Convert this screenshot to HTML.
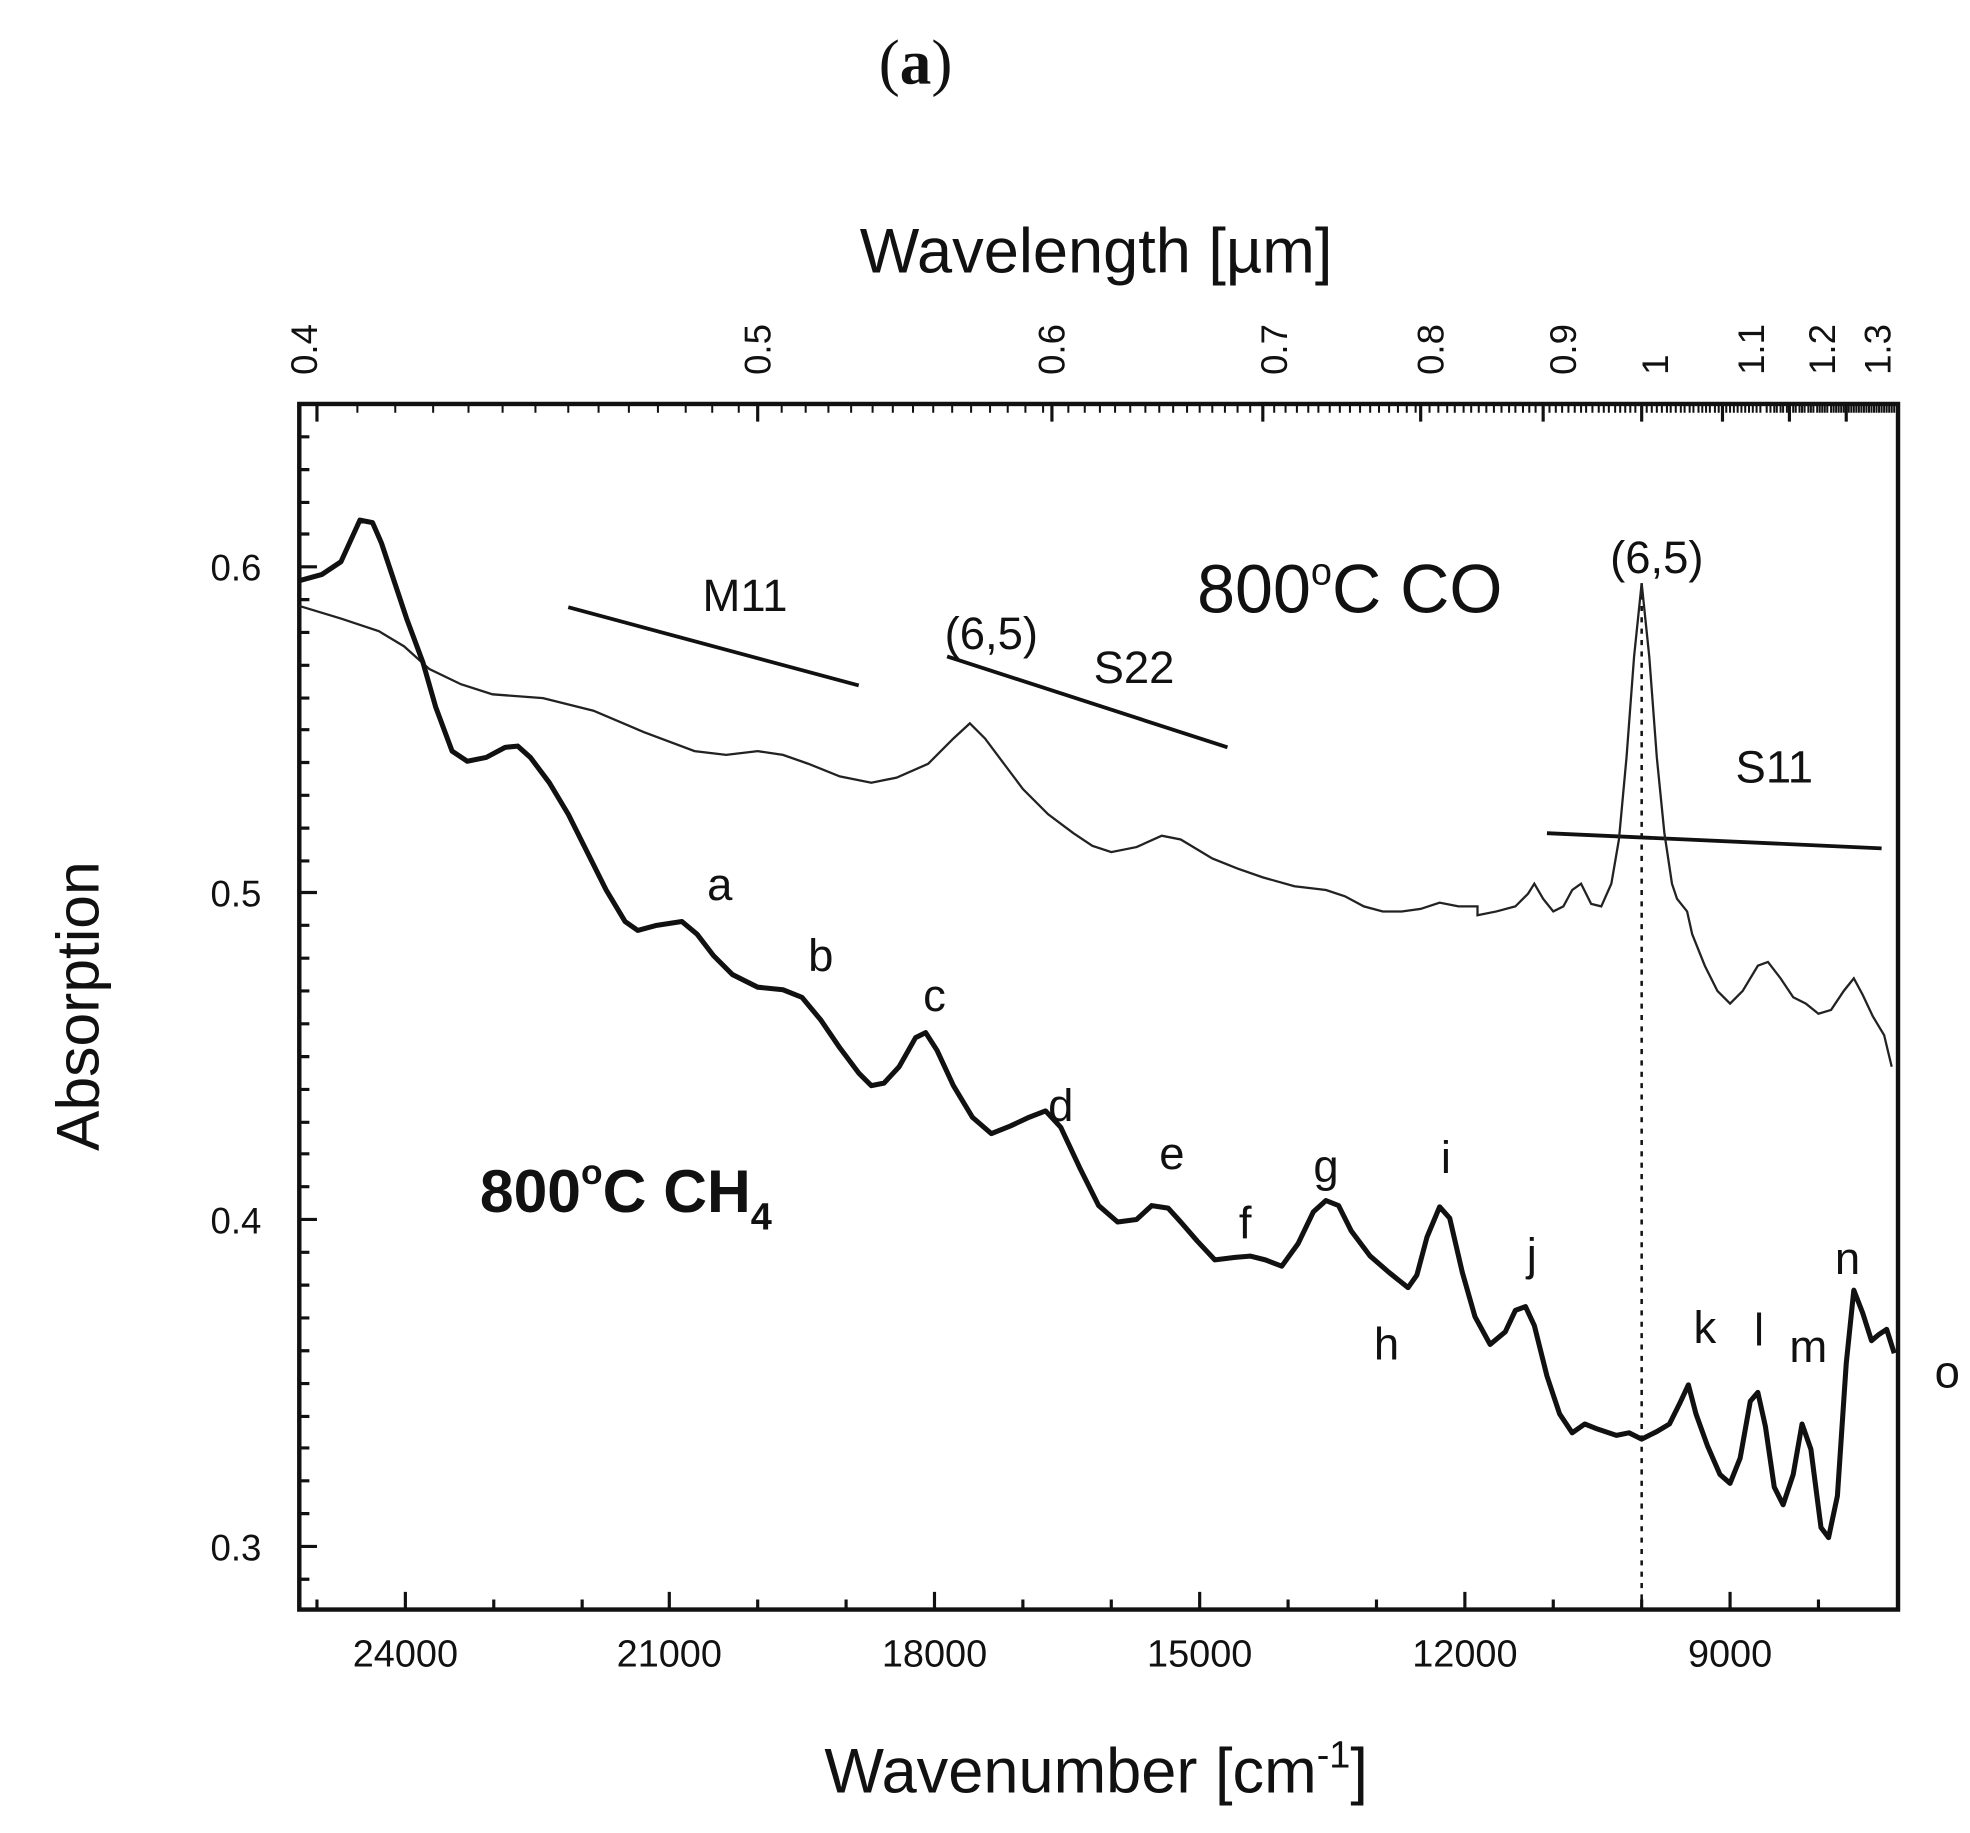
<!DOCTYPE html>
<html><head><meta charset="utf-8"><style>
html,body{margin:0;padding:0;background:#fff;}
svg{display:block}
text{font-family:"Liberation Sans",Arial,sans-serif;fill:#111}
</style></head><body>
<svg width="1970" height="1833" viewBox="0 0 1560 1452" preserveAspectRatio="none" xmlns="http://www.w3.org/2000/svg">
<text x="725" y="66" font-size="50" text-anchor="middle" style="font-family:'Liberation Serif',serif">(<tspan font-weight="bold">a</tspan>)</text>
<text x="868" y="216" font-size="50" text-anchor="middle">Wavelength [µm]</text>
<text x="868" y="1420" font-size="50" text-anchor="middle">Wavenumber [cm<tspan dy="-20" font-size="30">-1</tspan><tspan dy="20">]</tspan></text>
<text transform="translate(78,797) rotate(-90)" font-size="48" text-anchor="middle">Absorption</text>
<g font-size="30" text-anchor="middle">
<text x="321" y="1320">24000</text><text x="530" y="1320">21000</text><text x="740" y="1320">18000</text><text x="950" y="1320">15000</text><text x="1160" y="1320">12000</text><text x="1370" y="1320">9000</text>
</g>
<g font-size="29" text-anchor="end">
<text x="207" y="460">0.6</text><text x="207" y="718">0.5</text><text x="207" y="977">0.4</text><text x="207" y="1236">0.3</text>
</g>
<g font-size="29">
<text transform="translate(251,297) rotate(-90)">0.4</text>
<text transform="translate(610,297) rotate(-90)">0.5</text>
<text transform="translate(843,297) rotate(-90)">0.6</text>
<text transform="translate(1019,297) rotate(-90)">0.7</text>
<text transform="translate(1143,297) rotate(-90)">0.8</text>
<text transform="translate(1248,297) rotate(-90)">0.9</text>
<text transform="translate(1321,297) rotate(-90)">1</text>
<text transform="translate(1397,297) rotate(-90)">1.1</text>
<text transform="translate(1453,297) rotate(-90)">1.2</text>
<text transform="translate(1497,297) rotate(-90)">1.3</text>
</g>
<g stroke="#111" stroke-width="2.5" fill="none">
<path d="M321,1275v-14M530,1275v-14M740,1275v-14M950,1275v-14M1160,1275v-14M1370,1275v-14M391,1275v-8M461,1275v-8M600,1275v-8M670,1275v-8M810,1275v-8M880,1275v-8M1020,1275v-8M1090,1275v-8M1230,1275v-8M1300,1275v-8M1440,1275v-8M251,1275v-8"/>
<path d="M237,449h14M237,707h14M237,966h14M237,1225h14"/>
<path d="M237,346h8M237,372h8M237,398h8M237,423h8M237,475h8M237,501h8M237,527h8M237,553h8M237,578h8M237,604h8M237,630h8M237,656h8M237,682h8M237,733h8M237,759h8M237,785h8M237,811h8M237,837h8M237,863h8M237,889h8M237,914h8M237,940h8M237,992h8M237,1018h8M237,1044h8M237,1070h8M237,1096h8M237,1122h8M237,1147h8M237,1173h8M237,1199h8M237,1251h8"/>
<path d="M251,320v14M600,320v14M833,320v14M1000,320v14M1125,320v14M1222,320v14M1300,320v14M1364,320v14M1417,320v14M1462,320v14"/>
</g>
<path stroke="#111" stroke-width="1.6" d="M283,320v7M313,320v7M343,320v7M371,320v7M398,320v7M424,320v7M450,320v7M474,320v7M498,320v7M521,320v7M543,320v7M564,320v7M585,320v7M619,320v7M638,320v7M656,320v7M674,320v7M691,320v7M707,320v7M723,320v7M739,320v7M754,320v7M769,320v7M784,320v7M798,320v7M812,320v7M826,320v7M846,320v7M859,320v7M871,320v7M883,320v7M895,320v7M907,320v7M918,320v7M929,320v7M940,320v7M950,320v7M960,320v7M970,320v7M980,320v7M990,320v7M1009,320v7M1018,320v7M1027,320v7M1036,320v7M1044,320v7M1053,320v7M1061,320v7M1069,320v7M1077,320v7M1085,320v7M1092,320v7M1100,320v7M1107,320v7M1114,320v7M1121,320v7M1132,320v7M1139,320v7M1146,320v7M1152,320v7M1159,320v7M1165,320v7M1171,320v7M1177,320v7M1183,320v7M1189,320v7M1195,320v7M1200,320v7M1206,320v7M1211,320v7M1216,320v7M1227,320v7M1232,320v7M1237,320v7M1242,320v7M1247,320v7M1252,320v7M1256,320v7M1261,320v7M1266,320v7M1270,320v7M1274,320v7M1279,320v7M1283,320v7M1287,320v7M1291,320v7M1295,320v7M1304,320v7M1308,320v7M1312,320v7M1316,320v7M1320,320v7M1323,320v7M1327,320v7M1331,320v7M1334,320v7M1338,320v7M1341,320v7M1345,320v7M1348,320v7M1351,320v7M1354,320v7M1358,320v7M1361,320v7M1367,320v7M1370,320v7M1373,320v7M1376,320v7M1379,320v7M1382,320v7M1385,320v7M1388,320v7M1391,320v7M1394,320v7M1399,320v7M1402,320v7M1405,320v7M1407,320v7M1410,320v7M1412,320v7M1415,320v7M1420,320v7M1422,320v7M1425,320v7M1427,320v7M1429,320v7M1432,320v7M1434,320v7M1436,320v7M1439,320v7M1441,320v7M1443,320v7M1445,320v7M1447,320v7M1450,320v7M1452,320v7M1454,320v7M1456,320v7M1458,320v7M1460,320v7M1464,320v7M1466,320v7M1468,320v7M1470,320v7M1472,320v7M1474,320v7M1476,320v7M1478,320v7M1480,320v7M1482,320v7M1484,320v7M1486,320v7M1488,320v7M1490,320v7M1492,320v7M1494,320v7M1496,320v7M1498,320v7M1500,320v7"/>
<rect x="237" y="320" width="1266" height="955" fill="none" stroke="#111" stroke-width="3.5"/>
<line x1="1300" y1="462" x2="1300" y2="1275" stroke="#111" stroke-width="2" stroke-dasharray="4,5"/>
<g stroke="#111" stroke-width="3">
<line x1="450" y1="481" x2="680" y2="543"/>
<line x1="750" y1="520" x2="972" y2="592"/>
<line x1="1225" y1="660" x2="1490" y2="672"/>
</g>
<path fill="none" stroke="#222" stroke-width="1.8" d="M237,480 L270,490 300,500 320,512 340,530 365,542 390,550 430,553 470,563 510,580 550,595 575,598 600,595 620,598 640,605 665,615 690,620 710,616 735,605 755,585 768,573 780,585 795,605 810,625 830,645 850,660 865,670 880,675 900,671 920,662 935,665 960,680 980,688 1000,695 1025,702 1050,705 1065,710 1080,718 1095,722 1110,722 1125,720 1140,715 1155,718 1170,718 1170,725 1185,722 1200,718 1210,708 1215,700 1222,712 1230,722 1238,718 1245,705 1252,700 1260,716 1268,718 1276,700 1282,665 1288,600 1294,520 1300,462 1306,520 1312,600 1318,660 1324,700 1328,712 1336,722 1340,740 1350,765 1360,785 1370,795 1380,785 1392,765 1400,762 1410,775 1420,790 1430,795 1440,803 1450,800 1460,785 1468,775 1475,788 1483,805 1492,820 1498,845"/>
<path fill="none" stroke="#111" stroke-width="4" stroke-linejoin="round" d="M237,460 L255,455 270,445 285,412 295,414 302,430 312,460 322,490 335,525 345,560 358,595 370,603 385,600 400,592 410,591 420,600 435,620 450,645 465,675 480,705 495,730 505,737 520,733 540,730 552,740 565,757 580,772 600,782 620,784 635,790 650,808 665,830 680,850 690,860 700,858 712,845 725,822 733,818 742,832 755,860 770,885 785,898 800,892 815,885 828,880 840,893 855,925 870,955 885,968 900,966 912,955 925,957 935,968 948,983 962,998 978,996 990,995 1002,998 1015,1003 1028,985 1040,960 1050,951 1060,955 1070,975 1085,995 1100,1008 1115,1020 1122,1010 1130,980 1140,956 1148,965 1158,1008 1168,1043 1180,1065 1192,1055 1200,1038 1208,1035 1215,1050 1225,1090 1235,1120 1245,1135 1255,1128 1265,1132 1280,1137 1290,1135 1300,1140 1312,1134 1322,1128 1330,1112 1337,1097 1343,1120 1352,1145 1362,1168 1370,1175 1378,1155 1386,1110 1392,1103 1398,1130 1405,1178 1412,1192 1420,1168 1427,1128 1434,1148 1442,1210 1448,1218 1455,1185 1462,1080 1468,1022 1475,1040 1482,1062 1488,1057 1494,1053 1500,1072"/>
<g font-size="36" text-anchor="middle">
<text x="590" y="484">M11</text>
<text x="785" y="514">(6,5)</text>
<text x="898" y="541">S22</text>
<text x="1312" y="454">(6,5)</text>
<text x="1405" y="620">S11</text>
<text x="570" y="713">a</text><text x="650" y="769">b</text><text x="740" y="801">c</text><text x="840" y="888">d</text><text x="928" y="926">e</text><text x="986" y="981">f</text><text x="1050" y="936">g</text><text x="1098" y="1077">h</text><text x="1145" y="929">i</text><text x="1213" y="1006">j</text><text x="1350" y="1064">k</text><text x="1393" y="1066">l</text><text x="1432" y="1079">m</text><text x="1463" y="1009">n</text><text x="1542" y="1099">o</text>
</g>
<text x="948" y="485" font-size="54">800<tspan dy="-22" font-size="30">o</tspan><tspan dy="22">C CO</tspan></text>
<text x="380" y="960" font-size="48" font-weight="bold">800<tspan dy="-22" font-size="28">o</tspan><tspan dy="22">C CH</tspan><tspan dy="14" font-size="30">4</tspan></text>
</svg>
</body></html>
